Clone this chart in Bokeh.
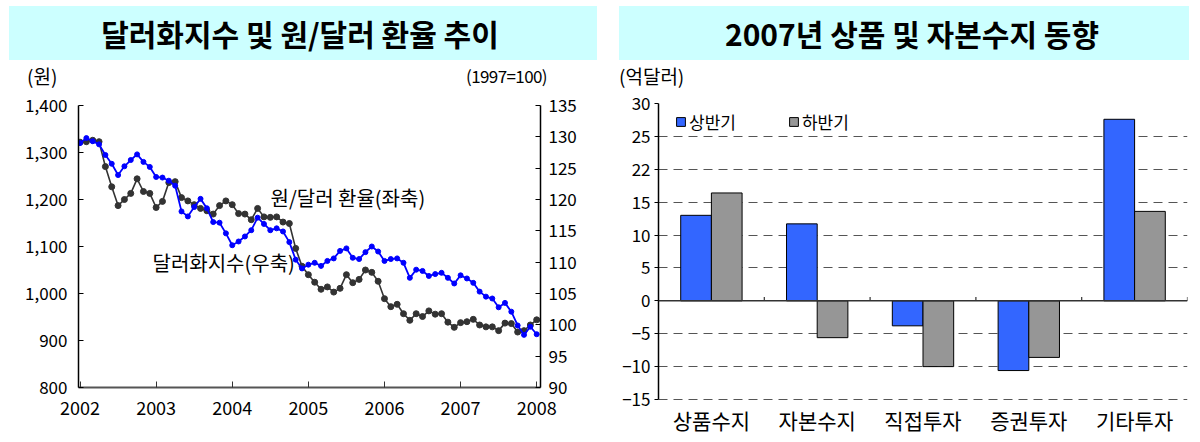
from bokeh.plotting import figure
from bokeh.models import (LinearAxis, Range1d, FixedTicker, Label, Span, Div,
                          Legend, LegendItem, NumeralTickFormatter, ColumnDataSource)
from bokeh.core.properties import value
from bokeh.layouts import row, column, Spacer
from bokeh.embed import file_html
from bokeh.resources import INLINE

FONT = "Noto Sans CJK KR"

# ---------------- data: left chart (monthly, Jan 2002 .. Jan 2008) ----------------
start_year = 2002
krw_usd = [1322, 1323, 1326, 1323, 1270, 1227, 1187, 1200, 1213, 1244, 1217, 1213,
           1183, 1196, 1236, 1238, 1204, 1197, 1189, 1181, 1176, 1169, 1187, 1197,
           1189, 1170, 1169, 1157, 1181, 1163, 1162, 1163, 1152, 1149, 1096, 1058,
           1040, 1024, 1009, 1014, 1003, 1011, 1040, 1023, 1030, 1050, 1045, 1026,
           989, 972, 977, 957, 943, 957, 951, 963, 956, 957, 939, 928,
           938, 940, 945, 933, 929, 929, 921, 937, 936, 918, 921, 933,
           944]
dollar_index = [129.0, 129.8, 129.3, 128.8, 127.1, 125.7, 123.9, 125.3, 126.3, 127.2, 126.0, 125.2,
                123.6, 123.5, 123.0, 122.2, 118.1, 117.3, 118.8, 120.1, 118.6, 116.4, 116.3, 114.6,
                112.7, 113.3, 114.1, 115.1, 117.1, 116.1, 115.1, 115.4, 114.9, 113.2, 110.4, 109.0,
                109.6, 109.9, 109.4, 110.2, 110.6, 111.8, 112.2, 110.7, 110.5, 111.6, 112.5, 111.7,
                110.2, 110.5, 110.6, 109.9, 107.5, 108.8, 108.6, 107.8, 108.1, 108.3, 107.5, 106.6,
                107.9, 107.4, 106.7, 105.3, 104.5, 104.2, 102.8, 103.5, 102.1, 99.9, 98.4, 99.7,
                98.5]
year_ticks = [2002, 2003, 2004, 2005, 2006, 2007, 2008]
krw_ticks = [800, 900, 1000, 1100, 1200, 1300, 1400]
idx_ticks = [90, 95, 100, 105, 110, 115, 120, 125, 130, 135]

# ---------------- data: right chart ----------------
categories = ["상품수지", "자본수지", "직접투자", "증권투자", "기타투자"]
first_half = [13.0, 11.7, -3.8, -10.6, 27.6]
second_half = [16.4, -5.6, -10.0, -8.6, 13.6]
bal_ticks = [-15, -10, -5, 0, 5, 10, 15, 20, 25, 30]
bal_tick_labels = {-15: "\u221215", -10: "\u221210", -5: "\u22125", 0: "0", 5: "5",
                   10: "10", 15: "15", 20: "22", 25: "25", 30: "30"}

left_title = "달러화지수 및 원/달러 환율 추이"
right_title = "2007년 상품 및 자본수지 동향"

BAND = "#CCFFFF"
TITLE_H = 89


def header_div(title, w, band_l, band_w, center_x, units):
    parts = ['<div style="position:relative;width:%dpx;height:%dpx;'
             'font-family:\'%s\';color:#000;">' % (w, TITLE_H, FONT)]
    parts.append('<div style="position:absolute;left:%dpx;top:6px;width:%dpx;'
                 'height:54px;background:%s;"></div>' % (band_l, band_w, BAND))
    parts.append('<div style="position:absolute;left:%dpx;top:6px;width:%dpx;'
                 'height:54px;line-height:54px;text-align:center;font-size:30px;'
                 'font-weight:bold;white-space:nowrap;">%s</div>'
                 % (center_x - 300, 600, title))
    for (ux, txt, side, fs, ls) in units:
        parts.append('<div style="position:absolute;%s:%dpx;top:64px;font-size:%s;'
                     'letter-spacing:%s;line-height:24px;white-space:nowrap;">%s</div>'
                     % (side, ux, fs, ls, txt))
    parts.append('</div>')
    return Div(text="".join(parts), width=w, height=TITLE_H, margin=0)


# ---------------- left chart ----------------
x_month = [start_year + i / 12.0 for i in range(len(krw_usd))]
src = ColumnDataSource(dict(x=x_month, krw=krw_usd, idx=dollar_index))

p = figure(width=598, height=344, x_range=Range1d(2001.98, 2008.05),
           y_range=Range1d(800, 1400), toolbar_location=None, output_backend="svg",
           min_border_left=78, min_border_right=58, min_border_top=16,
           min_border_bottom=46)
p.extra_y_ranges = {"idx": Range1d(90, 135)}
p.grid.visible = False
p.outline_line_color = None

p.line("x", "krw", source=src, line_color="#333333", line_width=1.6)
p.scatter("x", "krw", source=src, marker="circle", size=6,
          fill_color="#333333", line_color="#333333")
p.line("x", "idx", source=src, y_range_name="idx", line_color="#0000FF", line_width=1.8)
p.scatter("x", "idx", source=src, y_range_name="idx", marker="circle", size=5,
          fill_color="#0000FF", line_color="#0000FF")

p.yaxis.ticker = FixedTicker(ticks=krw_ticks)
p.yaxis.formatter = NumeralTickFormatter(format="0,0")
p.xaxis.ticker = FixedTicker(ticks=year_ticks)

ra = LinearAxis(y_range_name="idx", ticker=FixedTicker(ticks=idx_ticks))
p.add_layout(ra, "right")

for ax in [p.yaxis[0], ra]:
    ax.major_tick_in = 5
    ax.major_tick_out = 0
    ax.minor_tick_line_color = None
    ax.axis_line_color = "#000000"
    ax.axis_line_width = 1.5
    ax.major_tick_line_color = "#000000"
    ax.major_label_text_font = FONT
    ax.major_label_text_font_size = "17px"
    ax.major_label_text_color = "#000000"
p.yaxis[0].major_label_standoff = 11
ra.major_label_standoff = 8

xa = p.xaxis[0]
xa.major_tick_in = 6
xa.major_tick_out = 0
xa.minor_tick_line_color = None
xa.axis_line_color = "#555555"
xa.axis_line_width = 2
xa.major_tick_line_color = "#333333"
xa.major_label_text_font = FONT
xa.major_label_text_font_size = "18px"
xa.major_label_text_color = "#000000"
xa.major_label_standoff = 13

p.add_layout(Label(x=2004.503, y=1204.3, text="원/달러 환율(좌축)", text_align="left",
                   text_baseline="middle", text_font=FONT, text_font_size="20px",
                   text_color="#000000"))
p.add_layout(Label(x=2002.952, y=1066.0, text="달러화지수(우축)", text_align="left",
                   text_baseline="middle", text_font=FONT, text_font_size="20px",
                   text_color="#000000"))

# ---------------- right chart ----------------
n = len(categories)
pos = list(range(1, n + 1))
bw = 0.29
bsrc = ColumnDataSource(dict(
    x1=[c - bw / 2 for c in pos], x2=[c + bw / 2 for c in pos],
    h1=first_half, h2=second_half))

y_lo, y_hi = bal_ticks[0], bal_ticks[-1]
px_per_unit = 296.0 / (y_hi - y_lo)
y_floor = y_lo - 34.0 / px_per_unit

q = figure(width=572, height=344, x_range=Range1d(0.5, n + 0.5),
           y_range=Range1d(y_floor, y_hi), toolbar_location=None, output_backend="svg",
           x_axis_location=None,
           min_border_left=37, min_border_right=4, min_border_top=14,
           min_border_bottom=0)
q.outline_line_color = None
q.xgrid.visible = False
q.ygrid.grid_line_color = "#555555"
q.ygrid.grid_line_dash = "9 6"
q.ygrid.grid_line_width = 1

r1 = q.vbar(x="x1", top="h1", bottom=0, width=bw, source=bsrc,
            fill_color="#3366FF", line_color="#000000", line_width=1)
r2 = q.vbar(x="x2", top="h2", bottom=0, width=bw, source=bsrc,
            fill_color="#969696", line_color="#000000", line_width=1)

q.add_layout(Span(location=0, dimension="width", line_color="#333333", line_width=1.5))
bounds = [c + 0.5 for c in pos]
q.segment(x0=bounds, y0=[0] * n, x1=bounds, y1=[0.6] * n,
          line_color="#333333", line_width=1.2)

# category labels (drawn inside the extended frame below the -15 line)
q.text(x=pos, y=[y_lo - 20.0 / px_per_unit] * n, text=categories,
       text_align="center", text_baseline="middle", text_font=value(FONT),
       text_font_size="21px", text_color="#000000")

ya = q.yaxis[0]
ya.ticker = FixedTicker(ticks=bal_ticks)
ya.bounds = (y_lo, y_hi)
ya.major_label_overrides = bal_tick_labels
ya.major_tick_in = 0
ya.major_tick_out = 4
ya.minor_tick_line_color = None
ya.axis_line_color = "#000000"
ya.axis_line_width = 1.5
ya.major_label_text_font = FONT
ya.major_label_text_font_size = "17px"
ya.major_label_text_color = "#000000"
ya.major_label_standoff = 4

frame_h = 330.0
leg_center_from_top = 19.5
leg_h = 22.0
legend = Legend(items=[LegendItem(label="상반기", renderers=[r1]),
                       LegendItem(label="하반기", renderers=[r2])],
                orientation="horizontal",
                location=(17, frame_h - leg_center_from_top - leg_h / 2.0),
                glyph_width=11, glyph_height=11, label_standoff=3, spacing=52,
                padding=0, margin=0, label_height=16,
                label_text_font=FONT, label_text_font_size="17px",
                label_text_color="#000000",
                border_line_color=None, background_fill_alpha=0)
q.add_layout(legend, "center")

# ---------------- layout ----------------
tl = header_div(left_title, 598, 9, 588, 300,
                [(27, "(원)", "left", "19px", "0px"),
                 (51, "(1997=100)", "right", "17px", "-0.6px")])
tr = header_div(right_title, 572, 0, 570, 293,
                [(0, "(억달러)", "left", "19px", "0px")])

layout = row(column(tl, p), Spacer(width=21), column(tr, q))

open("out.html", "w").write(file_html(layout, INLINE))
